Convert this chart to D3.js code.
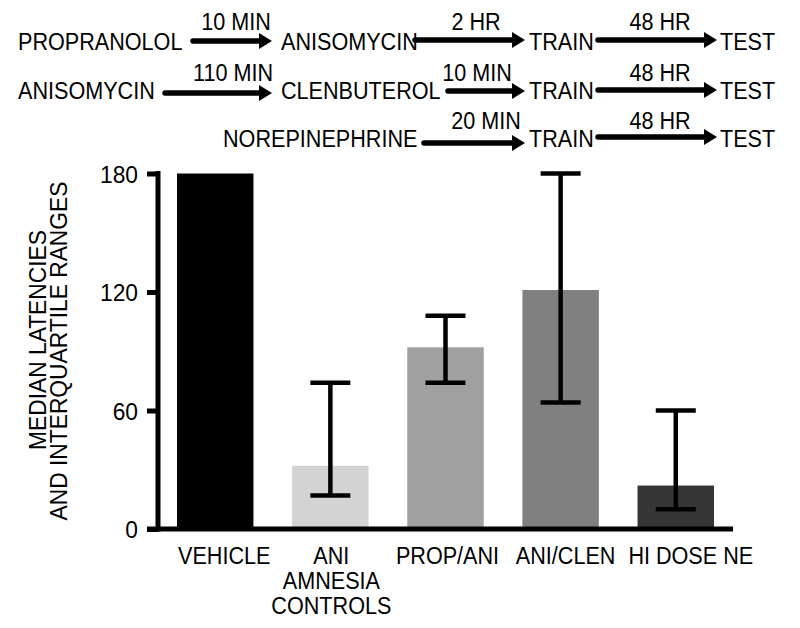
<!DOCTYPE html>
<html>
<head>
<meta charset="utf-8">
<script src="https://cdn.jsdelivr.net/npm/d3@7"></script>
<style>
  html, body { margin: 0; padding: 0; background: #fff; }
  svg { display: block; font-family: Arial, "Liberation Sans", sans-serif; }
</style>
</head>
<body>
<svg id="chart" width="800" height="628"></svg>
<script>
// ---------- data ----------
const categories = ["VEHICLE", "ANI\nAMNESIA\nCONTROLS", "PROP/ANI", "ANI/CLEN", "HI DOSE NE"];
const medians = [180, 32, 92, 121, 22];
const lowerQuartile = [null, 17, 74, 64, 10];
const upperQuartile = [null, 74, 108, 180, 60];
const barColors = ["#000000", "#d3d3d3", "#a0a0a0", "#808080", "#363636"];
const yTicks = [0, 60, 120, 180];
const yLabelLines = ["MEDIAN LATENCIES", "AND INTERQUARTILE RANGES"];

// protocol schematic text
const protocolDrugs = [
  ["PROPRANOLOL", "ANISOMYCIN", "TRAIN", "TEST"],
  ["ANISOMYCIN", "CLENBUTEROL", "TRAIN", "TEST"],
  ["NOREPINEPHRINE", "TRAIN", "TEST"]
];
const protocolIntervals = [
  ["10 MIN", "2 HR", "48 HR"],
  ["110 MIN", "10 MIN", "48 HR"],
  ["20 MIN", "48 HR"]
];

// ---------- layout ----------
const svg = d3.select("#chart");
const FONT = 24;
const SX = 0.9;

function addText(parent, str, x, y, anchor, size, sx, rot) {
  return parent.append("text")
    .attr("transform", `translate(${x},${y})${rot ? ` rotate(${rot})` : ""} scale(${sx},1)`)
    .attr("text-anchor", anchor)
    .attr("font-size", size)
    .attr("fill", "#000")
    .text(str);
}

const x = d3.scaleBand()
  .domain(categories)
  .range([158, 733])
  .paddingInner(0.336)
  .paddingOuter(0.165);

const y = d3.scaleLinear().domain([0, 180]).range([529, 173.5]);

// bars
svg.append("g").selectAll("rect")
  .data(categories)
  .join("rect")
  .attr("x", d => x(d))
  .attr("width", x.bandwidth())
  .attr("y", (d, i) => y(medians[i]))
  .attr("height", (d, i) => y(0) - y(medians[i]))
  .attr("fill", (d, i) => barColors[i]);

// error bars
const capHalf = 20;
const eb = svg.append("g").attr("stroke", "#000").attr("stroke-width", 4.5).attr("fill", "none");
categories.forEach((c, i) => {
  if (lowerQuartile[i] == null) return;
  const cx = x(c) + x.bandwidth() / 2;
  eb.append("line").attr("x1", cx).attr("x2", cx)
    .attr("y1", y(upperQuartile[i])).attr("y2", y(lowerQuartile[i]));
  [upperQuartile[i], lowerQuartile[i]].forEach(v => {
    eb.append("line").attr("x1", cx - capHalf).attr("x2", cx + capHalf)
      .attr("y1", y(v)).attr("y2", y(v));
  });
});

// y axis
const yAxis = d3.axisLeft(y).tickValues(yTicks).tickSize(11).tickPadding(9);
const yg = svg.append("g").attr("transform", "translate(158,0)").call(yAxis);
yg.select(".domain").remove();
yg.selectAll(".tick line").attr("stroke", "#000").attr("stroke-width", 5);
yg.selectAll(".tick text").remove();
yg.selectAll(".tick").each(function(d) {
  addText(d3.select(this), d3.format("d")(d), -20, 8.5, "end", 24, 0.95, 0);
});

// axis lines
svg.append("line").attr("x1", 158).attr("x2", 158).attr("y1", 171).attr("y2", 531.5)
  .attr("stroke", "#000").attr("stroke-width", 5);
svg.append("line").attr("x1", 147).attr("x2", x.range()[1]).attr("y1", y(0)).attr("y2", y(0))
  .attr("stroke", "#000").attr("stroke-width", 5);

// x labels
const labelNudge = [9, 1, 2, 5, 15];
const xl = svg.append("g");
categories.forEach((c, i) => {
  const cx = x(c) + x.bandwidth() / 2 + labelNudge[i];
  c.split("\n").forEach((line, j) => {
    addText(xl, line, cx, 564 + 25 * j, "middle", FONT, SX, 0);
  });
});

// y label
const ylPos = [[46, 340], [67, 351]];
yLabelLines.forEach((line, i) => {
  addText(svg, line, ylPos[i][0], ylPos[i][1], "middle", FONT, 0.95, -90);
});

// ---------- protocol schematic ----------
const rowBaselines = [50, 99, 147];
const intervalBaselines = [29.5, 81, 128.5];
const drugStarts = [
  [18, 281, 529, 720],
  [18, 281, 529, 720],
  [223, 529, 720]
];
const arrowSpans = [
  [[193, 272, 41], [415, 525, 40], [598, 717, 40]],
  [[165, 272, 93], [448, 525, 91], [598, 717, 90]],
  [[424, 525, 143], [598, 717, 137]]
];
const intervalCenters = [
  [236, 476, 660],
  [233, 477, 660],
  [486, 660]
];

const proto = svg.append("g");
protocolDrugs.forEach((row, r) => {
  row.forEach((name, k) => {
    addText(proto, name, drugStarts[r][k], rowBaselines[r], "start", FONT, SX, 0);
  });
  protocolIntervals[r].forEach((lab, k) => {
    addText(proto, lab, intervalCenters[r][k], intervalBaselines[r], "middle", FONT, SX, 0);
    const [x1, x2, ay] = arrowSpans[r][k];
    const head = 13;
    proto.append("line").attr("x1", x1).attr("x2", x2 - head + 1).attr("y1", ay).attr("y2", ay)
      .attr("stroke", "#000").attr("stroke-width", 5.5).attr("stroke-linecap", "round");
    proto.append("path")
      .attr("d", `M${x2 - head},${ay - 8} L${x2},${ay} L${x2 - head},${ay + 8} Z`)
      .attr("fill", "#000");
  });
});
</script>
</body>
</html>
